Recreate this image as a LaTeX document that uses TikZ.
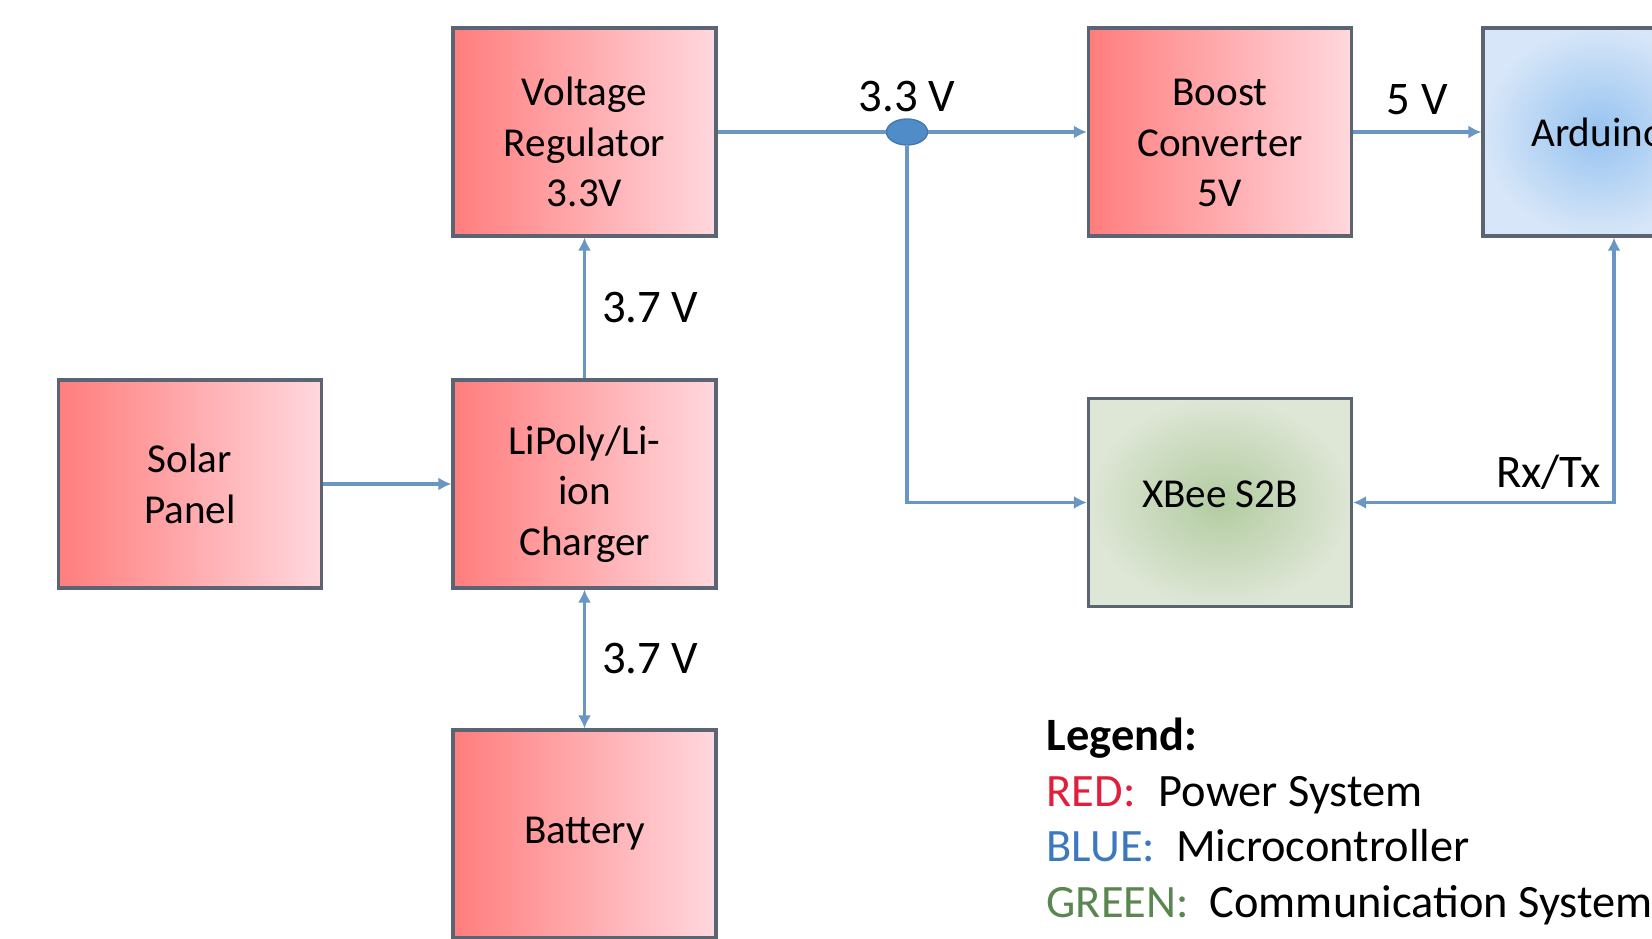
\documentclass[tikz,border=0pt]{standalone}
\usepackage{fontspec}
\setmainfont{Carlito}
\usetikzlibrary{arrows.meta, positioning, calc, shapes.geometric}

\definecolor{redL}{RGB}{255,125,125}
\definecolor{redR}{RGB}{255,216,222}
\definecolor{blueIn}{RGB}{150,195,240}
\definecolor{blueOut}{RGB}{215,230,248}
\definecolor{greenIn}{RGB}{178,204,160}
\definecolor{greenOut}{RGB}{222,230,214}
\definecolor{boxedge}{RGB}{90,100,115}
\definecolor{wirec}{RGB}{105,150,195}
\definecolor{dotc}{RGB}{80,140,200}
\definecolor{dotedge}{RGB}{70,120,175}
\definecolor{legred}{RGB}{225,30,60}
\definecolor{legblue}{RGB}{60,120,190}
\definecolor{leggreen}{RGB}{90,135,80}

\begin{document}
\begin{tikzpicture}[font=\fontsize{11.7}{14.4}\selectfont, >={Latex[length=1.3mm,width=1.3mm]},
    blk/.style={draw=boxedge, line width=0.9pt, minimum width=2.63cm, minimum height=2.08cm, align=center, inner sep=1pt},
    pwr/.style={blk, left color=redL, right color=redR},
    mcu/.style={blk, shading=radial, inner color=blueIn, outer color=blueOut},
    com/.style={blk, shading=radial, inner color=greenIn, outer color=greenOut},
    lowtxt/.style={text height=1.50cm},
    wire/.style={draw=wirec, line width=0.9pt},
    volt/.style={font=\fontsize{13.3}{15}\selectfont},
    legtxt/.style={anchor=base west, inner sep=0pt, font=\fontsize{13.2}{15}\selectfont}]
    \clip (0,0) rectangle (16.52,-9.39);

    \node[pwr, lowtxt] (vreg) at (5.845,-1.32) {Voltage\\Regulator\\3.3V};
    \node[pwr, lowtxt] (boost) at (12.20,-1.32) {Boost\\Converter\\5V};
    \node[mcu, minimum width=2.30cm] (ard) at (15.98,-1.32) {Arduino};
    \node[pwr] (solar) at (1.90,-4.84) {Solar\\Panel};
    \node[pwr, lowtxt] (chg) at (5.845,-4.84) {LiPoly/Li-\\ion\\Charger};
    \node[pwr] (bat) at (5.845,-8.34) {Battery};
    \node[com, text depth=0.16cm] (xbee) at (12.20,-5.025) {XBee S2B};
    \node[ellipse, fill=dotc, draw=dotedge, minimum width=0.41cm, minimum height=0.26cm, inner sep=0pt] (dot) at (9.07,-1.32) {};
    \node[volt, inner sep=1.5pt, above=0pt of dot] (v33) {3.3 V};
    \coordinate (rxtx) at ([xshift=0.16cm]ard.south);

    \draw[wire] (vreg) -- (dot);
    \draw[wire,->] (dot) -- (boost);
    \draw[wire,->] (dot) |- (xbee);
    \draw[wire,->] (boost) -- node[midway, above, volt, yshift=1pt] {5 V} (ard);
    \draw[wire,->] (chg) -- node[midway, right, volt, xshift=1.2pt] {3.7 V} (vreg);
    \draw[wire,<->] (chg) -- node[midway, right, volt, xshift=1.2pt] {3.7 V} (bat);
    \draw[wire,->] (solar) -- (chg);
    \draw[wire,<->] (rxtx) |- node[pos=0.5, above left, volt] {Rx/Tx} (xbee);

    % legend
    \node[legtxt, font=\fontsize{13.2}{15}\selectfont\bfseries] (leg) at (10.46,-7.50) {Legend:};
    \node[legtxt] (legr) at (10.46,-8.06) {\textcolor{legred}{RED:}\hspace{0.5em}Power System};
    \node[legtxt] (legb) at (10.46,-8.61) {\textcolor{legblue}{BLUE:}\hspace{0.45em}Microcontroller};
    \node[legtxt] (legg) at (10.46,-9.17) {\textcolor{leggreen}{GREEN:}\hspace{0.45em}Communication System};
\end{tikzpicture}
\end{document}
